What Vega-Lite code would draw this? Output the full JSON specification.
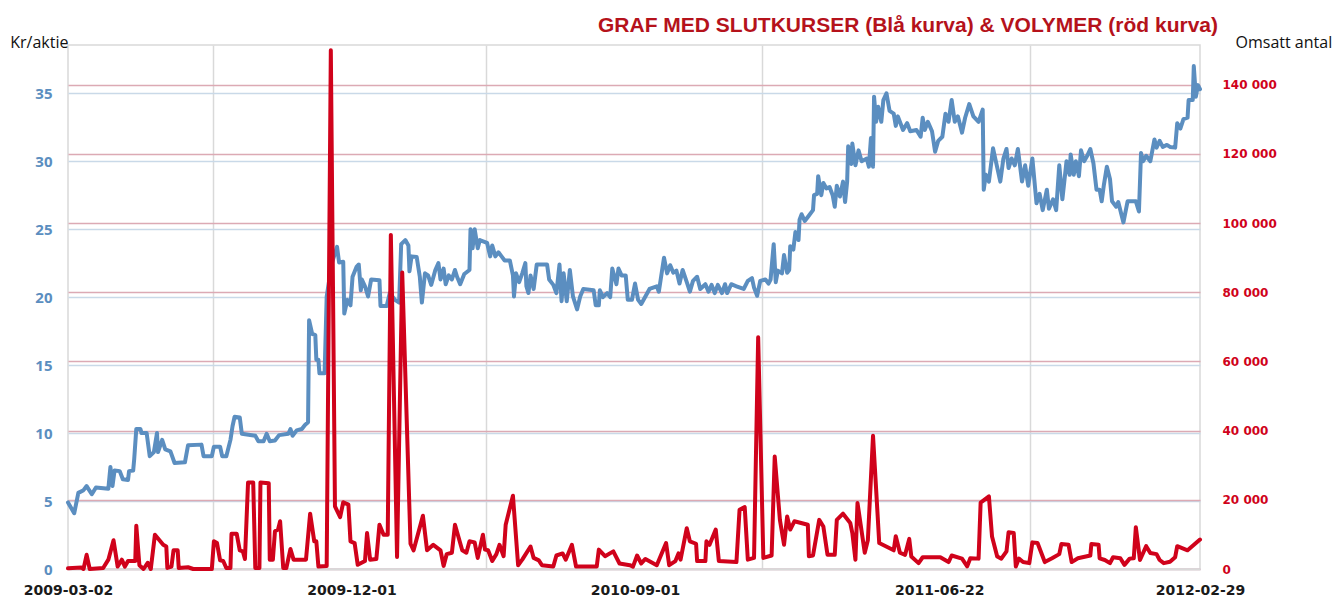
{
"$schema": "https://vega.github.io/schema/vega-lite/v6.json",
"autosize": "none",
"width": 1132,
"height": 524,
"padding": {"left": 68, "top": 45, "right": 137, "bottom": 35},
"background": "white",
"title": {"text": "GRAF MED SLUTKURSER (Blå kurva) & VOLYMER (röd kurva)", "anchor": "end", "frame": "group", "color": "#b5121b", "font": "Liberation Sans", "fontSize": 21, "fontWeight": "bold", "dx": 18, "dy": 6, "offset": 4},
"config": {"view": {"stroke": "#d9d9d9", "strokeWidth": 1.5}},
"datasets": {
"price": [
{"date":"2009-03-02","close":4.9},{"date":"2009-03-08","close":4.1},{"date":"2009-03-12","close":5.6},{"date":"2009-03-17","close":5.8},{"date":"2009-03-20","close":6.1},{"date":"2009-03-25","close":5.5},{"date":"2009-03-29","close":6.0},{"date":"2009-04-10","close":5.9},{"date":"2009-04-12","close":7.5},{"date":"2009-04-14","close":6.1},{"date":"2009-04-16","close":7.25},{"date":"2009-04-21","close":7.2},{"date":"2009-04-24","close":6.6},{"date":"2009-04-29","close":6.55},{"date":"2009-04-30","close":7.2},{"date":"2009-05-04","close":7.25},{"date":"2009-05-05","close":8.1},{"date":"2009-05-07","close":10.3},{"date":"2009-05-11","close":10.3},{"date":"2009-05-12","close":10.0},{"date":"2009-05-17","close":10.0},{"date":"2009-05-20","close":8.3},{"date":"2009-05-24","close":8.6},{"date":"2009-05-27","close":10.0},{"date":"2009-05-28","close":8.6},{"date":"2009-06-01","close":9.5},{"date":"2009-06-04","close":8.8},{"date":"2009-06-09","close":8.65},{"date":"2009-06-13","close":7.8},{"date":"2009-06-23","close":7.85},{"date":"2009-06-26","close":9.1},{"date":"2009-07-09","close":9.15},{"date":"2009-07-11","close":8.3},{"date":"2009-07-19","close":8.3},{"date":"2009-07-21","close":9.0},{"date":"2009-07-27","close":9.0},{"date":"2009-07-29","close":8.3},{"date":"2009-08-02","close":8.3},{"date":"2009-08-06","close":9.5},{"date":"2009-08-08","close":10.5},{"date":"2009-08-10","close":11.2},{"date":"2009-08-15","close":11.15},{"date":"2009-08-17","close":9.95},{"date":"2009-08-30","close":9.8},{"date":"2009-09-02","close":9.4},{"date":"2009-09-07","close":9.4},{"date":"2009-09-10","close":9.95},{"date":"2009-09-13","close":9.4},{"date":"2009-09-18","close":9.45},{"date":"2009-09-22","close":9.85},{"date":"2009-10-01","close":9.95},{"date":"2009-10-03","close":10.3},{"date":"2009-10-05","close":9.8},{"date":"2009-10-09","close":10.2},{"date":"2009-10-14","close":10.3},{"date":"2009-10-17","close":10.6},{"date":"2009-10-20","close":10.8},{"date":"2009-10-21","close":18.3},{"date":"2009-10-24","close":17.3},{"date":"2009-10-27","close":17.2},{"date":"2009-10-28","close":15.4},{"date":"2009-10-30","close":15.4},{"date":"2009-10-31","close":14.4},{"date":"2009-11-05","close":14.4},{"date":"2009-11-07","close":20.05},{"date":"2009-11-12","close":22.5},{"date":"2009-11-17","close":23.7},{"date":"2009-11-19","close":22.55},{"date":"2009-11-23","close":22.6},{"date":"2009-11-24","close":18.8},{"date":"2009-11-27","close":19.8},{"date":"2009-11-30","close":19.4},{"date":"2009-12-02","close":21.5},{"date":"2009-12-06","close":22.25},{"date":"2009-12-08","close":22.4},{"date":"2009-12-10","close":20.5},{"date":"2009-12-11","close":21.3},{"date":"2009-12-14","close":20.8},{"date":"2009-12-17","close":20.05},{"date":"2009-12-20","close":21.3},{"date":"2009-12-28","close":21.25},{"date":"2009-12-29","close":19.35},{"date":"2010-01-04","close":19.35},{"date":"2010-01-07","close":20.3},{"date":"2010-01-12","close":19.8},{"date":"2010-01-16","close":19.6},{"date":"2010-01-18","close":23.9},{"date":"2010-01-22","close":24.2},{"date":"2010-01-25","close":23.8},{"date":"2010-01-26","close":21.9},{"date":"2010-01-28","close":23.0},{"date":"2010-02-02","close":22.95},{"date":"2010-02-05","close":21.5},{"date":"2010-02-07","close":19.6},{"date":"2010-02-10","close":21.75},{"date":"2010-02-13","close":21.6},{"date":"2010-02-16","close":20.9},{"date":"2010-02-20","close":22.0},{"date":"2010-02-23","close":22.5},{"date":"2010-02-25","close":21.3},{"date":"2010-02-28","close":22.1},{"date":"2010-03-02","close":20.95},{"date":"2010-03-05","close":21.6},{"date":"2010-03-08","close":21.3},{"date":"2010-03-11","close":22.0},{"date":"2010-03-13","close":21.5},{"date":"2010-03-16","close":20.95},{"date":"2010-03-20","close":21.7},{"date":"2010-03-25","close":22.0},{"date":"2010-03-26","close":25.0},{"date":"2010-03-28","close":23.6},{"date":"2010-03-30","close":25.0},{"date":"2010-04-02","close":23.6},{"date":"2010-04-04","close":24.2},{"date":"2010-04-11","close":24.0},{"date":"2010-04-14","close":23.0},{"date":"2010-04-16","close":23.8},{"date":"2010-04-19","close":23.0},{"date":"2010-04-22","close":23.3},{"date":"2010-04-25","close":23.0},{"date":"2010-04-28","close":22.7},{"date":"2010-05-03","close":22.7},{"date":"2010-05-06","close":21.6},{"date":"2010-05-07","close":20.05},{"date":"2010-05-09","close":21.75},{"date":"2010-05-12","close":21.1},{"date":"2010-05-15","close":21.75},{"date":"2010-05-18","close":22.5},{"date":"2010-05-19","close":20.8},{"date":"2010-05-21","close":20.3},{"date":"2010-05-23","close":21.6},{"date":"2010-05-26","close":20.6},{"date":"2010-05-29","close":22.4},{"date":"2010-06-08","close":22.4},{"date":"2010-06-10","close":21.3},{"date":"2010-06-14","close":20.9},{"date":"2010-06-17","close":20.3},{"date":"2010-06-20","close":22.4},{"date":"2010-06-22","close":19.7},{"date":"2010-06-24","close":21.75},{"date":"2010-06-27","close":19.7},{"date":"2010-06-30","close":22.0},{"date":"2010-07-03","close":20.05},{"date":"2010-07-07","close":19.1},{"date":"2010-07-10","close":20.05},{"date":"2010-07-13","close":20.6},{"date":"2010-07-23","close":20.5},{"date":"2010-07-25","close":19.4},{"date":"2010-07-28","close":19.4},{"date":"2010-07-29","close":20.5},{"date":"2010-08-01","close":20.0},{"date":"2010-08-05","close":20.3},{"date":"2010-08-08","close":20.0},{"date":"2010-08-10","close":22.1},{"date":"2010-08-14","close":20.95},{"date":"2010-08-16","close":22.1},{"date":"2010-08-19","close":21.6},{"date":"2010-08-23","close":21.6},{"date":"2010-08-25","close":19.8},{"date":"2010-08-29","close":19.8},{"date":"2010-09-01","close":21.0},{"date":"2010-09-04","close":19.8},{"date":"2010-09-07","close":19.5},{"date":"2010-09-11","close":20.05},{"date":"2010-09-15","close":20.6},{"date":"2010-09-22","close":20.8},{"date":"2010-09-24","close":20.4},{"date":"2010-09-27","close":21.9},{"date":"2010-09-29","close":22.9},{"date":"2010-10-02","close":21.75},{"date":"2010-10-05","close":22.35},{"date":"2010-10-08","close":21.8},{"date":"2010-10-11","close":21.95},{"date":"2010-10-14","close":21.0},{"date":"2010-10-17","close":22.0},{"date":"2010-10-21","close":21.1},{"date":"2010-10-24","close":20.4},{"date":"2010-10-27","close":21.2},{"date":"2010-10-31","close":21.5},{"date":"2010-11-03","close":20.6},{"date":"2010-11-08","close":20.95},{"date":"2010-11-11","close":20.4},{"date":"2010-11-14","close":20.9},{"date":"2010-11-17","close":20.3},{"date":"2010-11-20","close":20.9},{"date":"2010-11-24","close":20.3},{"date":"2010-11-27","close":20.95},{"date":"2010-11-29","close":20.3},{"date":"2010-12-03","close":20.95},{"date":"2010-12-08","close":20.8},{"date":"2010-12-15","close":20.6},{"date":"2010-12-19","close":21.2},{"date":"2010-12-23","close":21.4},{"date":"2010-12-25","close":20.7},{"date":"2010-12-28","close":20.1},{"date":"2010-12-31","close":21.2},{"date":"2011-01-05","close":21.3},{"date":"2011-01-08","close":21.0},{"date":"2011-01-10","close":21.3},{"date":"2011-01-13","close":23.9},{"date":"2011-01-15","close":21.1},{"date":"2011-01-17","close":21.95},{"date":"2011-01-21","close":21.75},{"date":"2011-01-23","close":23.1},{"date":"2011-01-26","close":21.8},{"date":"2011-01-28","close":22.0},{"date":"2011-01-29","close":23.75},{"date":"2011-02-01","close":23.5},{"date":"2011-02-03","close":24.8},{"date":"2011-02-06","close":24.2},{"date":"2011-02-07","close":25.7},{"date":"2011-02-09","close":26.1},{"date":"2011-02-12","close":25.6},{"date":"2011-02-15","close":25.9},{"date":"2011-02-20","close":26.4},{"date":"2011-02-21","close":27.5},{"date":"2011-02-24","close":27.6},{"date":"2011-02-25","close":28.9},{"date":"2011-02-28","close":27.5},{"date":"2011-03-02","close":28.4},{"date":"2011-03-05","close":28.0},{"date":"2011-03-08","close":28.1},{"date":"2011-03-11","close":27.5},{"date":"2011-03-13","close":26.65},{"date":"2011-03-15","close":28.2},{"date":"2011-03-18","close":27.4},{"date":"2011-03-21","close":28.5},{"date":"2011-03-23","close":27.0},{"date":"2011-03-25","close":28.5},{"date":"2011-03-26","close":31.1},{"date":"2011-03-29","close":29.8},{"date":"2011-03-30","close":31.3},{"date":"2011-04-02","close":29.7},{"date":"2011-04-05","close":30.8},{"date":"2011-04-08","close":30.0},{"date":"2011-04-13","close":30.2},{"date":"2011-04-15","close":29.6},{"date":"2011-04-17","close":31.7},{"date":"2011-04-19","close":29.6},{"date":"2011-04-20","close":34.75},{"date":"2011-04-22","close":32.9},{"date":"2011-04-24","close":34.0},{"date":"2011-04-27","close":32.9},{"date":"2011-04-29","close":34.5},{"date":"2011-05-02","close":35.0},{"date":"2011-05-05","close":33.7},{"date":"2011-05-09","close":33.5},{"date":"2011-05-11","close":32.6},{"date":"2011-05-13","close":33.3},{"date":"2011-05-18","close":32.3},{"date":"2011-05-22","close":32.8},{"date":"2011-05-25","close":32.2},{"date":"2011-05-31","close":32.3},{"date":"2011-06-04","close":31.8},{"date":"2011-06-06","close":33.2},{"date":"2011-06-08","close":32.3},{"date":"2011-06-11","close":32.9},{"date":"2011-06-15","close":32.2},{"date":"2011-06-18","close":30.7},{"date":"2011-06-21","close":31.5},{"date":"2011-06-25","close":31.8},{"date":"2011-06-28","close":33.5},{"date":"2011-07-01","close":32.9},{"date":"2011-07-04","close":34.5},{"date":"2011-07-07","close":32.9},{"date":"2011-07-10","close":33.3},{"date":"2011-07-14","close":32.1},{"date":"2011-07-17","close":33.2},{"date":"2011-07-21","close":34.2},{"date":"2011-07-25","close":33.3},{"date":"2011-07-30","close":32.9},{"date":"2011-08-03","close":33.8},{"date":"2011-08-04","close":27.9},{"date":"2011-08-06","close":29.0},{"date":"2011-08-09","close":28.5},{"date":"2011-08-13","close":30.95},{"date":"2011-08-16","close":29.9},{"date":"2011-08-20","close":28.5},{"date":"2011-08-23","close":30.2},{"date":"2011-08-26","close":30.9},{"date":"2011-08-28","close":29.5},{"date":"2011-08-31","close":30.2},{"date":"2011-09-03","close":29.7},{"date":"2011-09-06","close":30.9},{"date":"2011-09-10","close":28.5},{"date":"2011-09-13","close":29.7},{"date":"2011-09-16","close":28.2},{"date":"2011-09-20","close":30.2},{"date":"2011-09-24","close":26.9},{"date":"2011-09-27","close":27.6},{"date":"2011-09-30","close":26.4},{"date":"2011-10-04","close":27.9},{"date":"2011-10-06","close":26.5},{"date":"2011-10-10","close":27.2},{"date":"2011-10-13","close":26.4},{"date":"2011-10-16","close":29.7},{"date":"2011-10-19","close":27.2},{"date":"2011-10-23","close":30.0},{"date":"2011-10-26","close":29.0},{"date":"2011-10-27","close":30.5},{"date":"2011-10-30","close":29.0},{"date":"2011-11-01","close":30.0},{"date":"2011-11-04","close":28.9},{"date":"2011-11-06","close":30.8},{"date":"2011-11-09","close":30.0},{"date":"2011-11-12","close":30.4},{"date":"2011-11-15","close":30.9},{"date":"2011-11-18","close":29.85},{"date":"2011-11-21","close":27.9},{"date":"2011-11-24","close":27.9},{"date":"2011-11-26","close":27.05},{"date":"2011-11-28","close":28.2},{"date":"2011-12-01","close":29.6},{"date":"2011-12-04","close":28.7},{"date":"2011-12-06","close":27.05},{"date":"2011-12-10","close":26.65},{"date":"2011-12-12","close":27.0},{"date":"2011-12-17","close":25.5},{"date":"2011-12-21","close":27.05},{"date":"2011-12-29","close":27.05},{"date":"2012-01-01","close":26.3},{"date":"2012-01-03","close":30.6},{"date":"2012-01-05","close":30.0},{"date":"2012-01-08","close":30.4},{"date":"2012-01-12","close":30.0},{"date":"2012-01-16","close":31.6},{"date":"2012-01-18","close":31.0},{"date":"2012-01-21","close":31.5},{"date":"2012-01-24","close":31.05},{"date":"2012-01-28","close":31.2},{"date":"2012-01-31","close":31.05},{"date":"2012-02-05","close":31.0},{"date":"2012-02-07","close":32.8},{"date":"2012-02-10","close":32.4},{"date":"2012-02-13","close":33.1},{"date":"2012-02-17","close":33.2},{"date":"2012-02-18","close":34.5},{"date":"2012-02-22","close":34.5},{"date":"2012-02-23","close":37.0},{"date":"2012-02-25","close":34.75},{"date":"2012-02-27","close":35.6},{"date":"2012-02-29","close":35.3}
],
"volume": [
{"date":"2009-03-02","volume":200},{"date":"2009-03-15","volume":400},{"date":"2009-03-17","volume":0},{"date":"2009-03-20","volume":4100},{"date":"2009-03-23","volume":0},{"date":"2009-04-05","volume":300},{"date":"2009-04-10","volume":2700},{"date":"2009-04-15","volume":8300},{"date":"2009-04-19","volume":700},{"date":"2009-04-23","volume":2700},{"date":"2009-04-26","volume":700},{"date":"2009-04-29","volume":2300},{"date":"2009-05-06","volume":2300},{"date":"2009-05-07","volume":12500},{"date":"2009-05-10","volume":1100},{"date":"2009-05-14","volume":0},{"date":"2009-05-18","volume":1800},{"date":"2009-05-21","volume":0},{"date":"2009-05-25","volume":9900},{"date":"2009-06-02","volume":7000},{"date":"2009-06-05","volume":6500},{"date":"2009-06-06","volume":300},{"date":"2009-06-10","volume":700},{"date":"2009-06-12","volume":5400},{"date":"2009-06-16","volume":5400},{"date":"2009-06-17","volume":300},{"date":"2009-06-26","volume":500},{"date":"2009-07-01","volume":0},{"date":"2009-07-19","volume":0},{"date":"2009-07-21","volume":8000},{"date":"2009-07-24","volume":7500},{"date":"2009-07-27","volume":2500},{"date":"2009-07-30","volume":2300},{"date":"2009-08-02","volume":300},{"date":"2009-08-06","volume":300},{"date":"2009-08-07","volume":10200},{"date":"2009-08-12","volume":10200},{"date":"2009-08-15","volume":5400},{"date":"2009-08-18","volume":5100},{"date":"2009-08-20","volume":2900},{"date":"2009-08-23","volume":25000},{"date":"2009-08-28","volume":25000},{"date":"2009-08-30","volume":300},{"date":"2009-09-03","volume":300},{"date":"2009-09-04","volume":25000},{"date":"2009-09-12","volume":24800},{"date":"2009-09-13","volume":2700},{"date":"2009-09-16","volume":2700},{"date":"2009-09-18","volume":10900},{"date":"2009-09-21","volume":11400},{"date":"2009-09-23","volume":13800},{"date":"2009-09-26","volume":300},{"date":"2009-09-29","volume":300},{"date":"2009-10-03","volume":5800},{"date":"2009-10-06","volume":2700},{"date":"2009-10-18","volume":2700},{"date":"2009-10-22","volume":16000},{"date":"2009-10-26","volume":8000},{"date":"2009-10-28","volume":8000},{"date":"2009-10-30","volume":700},{"date":"2009-11-07","volume":900},{"date":"2009-11-11","volume":150000},{"date":"2009-11-15","volume":18100},{"date":"2009-11-20","volume":15000},{"date":"2009-11-23","volume":19300},{"date":"2009-11-28","volume":18600},{"date":"2009-11-30","volume":8000},{"date":"2009-12-04","volume":7500},{"date":"2009-12-07","volume":1200},{"date":"2009-12-14","volume":2300},{"date":"2009-12-16","volume":10400},{"date":"2009-12-19","volume":2700},{"date":"2009-12-25","volume":2900},{"date":"2009-12-28","volume":12800},{"date":"2010-01-01","volume":9900},{"date":"2010-01-05","volume":9900},{"date":"2010-01-08","volume":96600},{"date":"2010-01-14","volume":3500},{"date":"2010-01-19","volume":85700},{"date":"2010-01-27","volume":7300},{"date":"2010-01-30","volume":5400},{"date":"2010-02-08","volume":15400},{"date":"2010-02-12","volume":5400},{"date":"2010-02-18","volume":7000},{"date":"2010-02-25","volume":5400},{"date":"2010-02-28","volume":900},{"date":"2010-03-03","volume":4300},{"date":"2010-03-08","volume":4700},{"date":"2010-03-11","volume":12800},{"date":"2010-03-18","volume":5400},{"date":"2010-03-22","volume":4700},{"date":"2010-03-25","volume":8000},{"date":"2010-03-30","volume":7700},{"date":"2010-04-02","volume":3200},{"date":"2010-04-07","volume":9900},{"date":"2010-04-09","volume":5600},{"date":"2010-04-12","volume":5400},{"date":"2010-04-16","volume":2300},{"date":"2010-04-20","volume":4300},{"date":"2010-04-23","volume":7000},{"date":"2010-04-27","volume":3700},{"date":"2010-04-29","volume":12800},{"date":"2010-05-06","volume":21200},{"date":"2010-05-11","volume":1100},{"date":"2010-05-15","volume":2700},{"date":"2010-05-23","volume":6500},{"date":"2010-05-26","volume":3200},{"date":"2010-05-31","volume":2500},{"date":"2010-06-03","volume":1100},{"date":"2010-06-14","volume":700},{"date":"2010-06-17","volume":3900},{"date":"2010-06-23","volume":4500},{"date":"2010-06-26","volume":2700},{"date":"2010-07-02","volume":7000},{"date":"2010-07-06","volume":700},{"date":"2010-07-26","volume":700},{"date":"2010-07-28","volume":5600},{"date":"2010-08-03","volume":3700},{"date":"2010-08-11","volume":5100},{"date":"2010-08-17","volume":1600},{"date":"2010-08-27","volume":1100},{"date":"2010-08-30","volume":700},{"date":"2010-09-03","volume":3900},{"date":"2010-09-07","volume":1600},{"date":"2010-09-11","volume":2900},{"date":"2010-09-22","volume":1100},{"date":"2010-10-01","volume":7500},{"date":"2010-10-04","volume":1100},{"date":"2010-10-10","volume":2300},{"date":"2010-10-13","volume":4500},{"date":"2010-10-15","volume":2700},{"date":"2010-10-21","volume":11800},{"date":"2010-10-24","volume":8000},{"date":"2010-10-30","volume":7300},{"date":"2010-10-31","volume":2300},{"date":"2010-11-08","volume":2300},{"date":"2010-11-09","volume":8000},{"date":"2010-11-12","volume":7000},{"date":"2010-11-18","volume":11400},{"date":"2010-11-21","volume":2300},{"date":"2010-12-08","volume":2000},{"date":"2010-12-11","volume":17100},{"date":"2010-12-16","volume":17900},{"date":"2010-12-19","volume":2700},{"date":"2010-12-25","volume":3200},{"date":"2010-12-29","volume":67000},{"date":"2011-01-03","volume":3200},{"date":"2011-01-11","volume":3900},{"date":"2011-01-14","volume":32500},{"date":"2011-01-19","volume":14200},{"date":"2011-01-23","volume":7000},{"date":"2011-01-26","volume":15200},{"date":"2011-01-29","volume":11400},{"date":"2011-02-02","volume":13800},{"date":"2011-02-15","volume":12800},{"date":"2011-02-16","volume":3700},{"date":"2011-02-20","volume":3900},{"date":"2011-02-26","volume":14200},{"date":"2011-03-02","volume":12300},{"date":"2011-03-06","volume":4100},{"date":"2011-03-13","volume":4100},{"date":"2011-03-15","volume":14200},{"date":"2011-03-21","volume":16000},{"date":"2011-03-28","volume":13300},{"date":"2011-03-30","volume":10400},{"date":"2011-04-02","volume":2700},{"date":"2011-04-04","volume":19100},{"date":"2011-04-11","volume":4700},{"date":"2011-04-14","volume":8300},{"date":"2011-04-19","volume":38500},{"date":"2011-04-25","volume":7500},{"date":"2011-05-09","volume":5400},{"date":"2011-05-11","volume":9500},{"date":"2011-05-15","volume":4700},{"date":"2011-05-20","volume":4100},{"date":"2011-05-24","volume":8700},{"date":"2011-05-26","volume":3600},{"date":"2011-06-02","volume":1700},{"date":"2011-06-06","volume":3400},{"date":"2011-06-23","volume":3400},{"date":"2011-07-01","volume":2000},{"date":"2011-07-04","volume":3900},{"date":"2011-07-14","volume":3000},{"date":"2011-07-19","volume":750},{"date":"2011-07-22","volume":3100},{"date":"2011-07-30","volume":3000},{"date":"2011-08-01","volume":19200},{"date":"2011-08-09","volume":21000},{"date":"2011-08-12","volume":9400},{"date":"2011-08-17","volume":3600},{"date":"2011-08-21","volume":3000},{"date":"2011-08-26","volume":5100},{"date":"2011-08-28","volume":10600},{"date":"2011-09-02","volume":10400},{"date":"2011-09-04","volume":750},{"date":"2011-09-07","volume":3000},{"date":"2011-09-11","volume":2000},{"date":"2011-09-17","volume":1700},{"date":"2011-09-20","volume":7700},{"date":"2011-09-25","volume":7500},{"date":"2011-10-02","volume":2000},{"date":"2011-10-09","volume":3100},{"date":"2011-10-16","volume":4300},{"date":"2011-10-18","volume":7200},{"date":"2011-10-25","volume":7000},{"date":"2011-10-28","volume":2000},{"date":"2011-11-03","volume":3100},{"date":"2011-11-15","volume":3900},{"date":"2011-11-16","volume":7200},{"date":"2011-11-23","volume":7000},{"date":"2011-11-24","volume":3100},{"date":"2011-11-29","volume":2600},{"date":"2011-12-04","volume":1700},{"date":"2011-12-07","volume":3400},{"date":"2011-12-14","volume":3100},{"date":"2011-12-18","volume":1200},{"date":"2011-12-23","volume":3000},{"date":"2011-12-27","volume":3100},{"date":"2011-12-29","volume":12100},{"date":"2012-01-02","volume":2600},{"date":"2012-01-08","volume":6600},{"date":"2012-01-12","volume":4600},{"date":"2012-01-18","volume":4300},{"date":"2012-01-21","volume":2600},{"date":"2012-01-25","volume":1700},{"date":"2012-01-31","volume":2100},{"date":"2012-02-05","volume":3400},{"date":"2012-02-07","volume":6600},{"date":"2012-02-17","volume":5400},{"date":"2012-02-29","volume":8500}
]
},
"layer": [
{
"data": {"name": "price"},
"mark": {"type": "line", "color": "#5b8ec0", "strokeWidth": 4, "strokeJoin": "round", "strokeCap": "round"},
"encoding": {
"x": {"field": "date", "type": "temporal", "scale": {"type": "utc", "domain": [{"year": 2009, "month": 3, "date": 2, "utc": true}, {"year": 2012, "month": 2, "date": 29, "utc": true}]},
"axis": {"orient": "bottom", "title": null, "labels": false, "ticks": false, "domain": false, "grid": true, "gridColor": "#d9d9d9", "gridWidth": 1.5,
"values": [{"year": 2009, "month": 7, "date": 20, "utc": true}, {"year": 2010, "month": 4, "date": 10, "utc": true}, {"year": 2011, "month": 1, "date": 2, "utc": true}, {"year": 2011, "month": 9, "date": 18, "utc": true}]}},
"y": {"field": "close", "type": "quantitative", "scale": {"domain": [0, 38.55], "nice": false, "zero": true},
"axis": {"orient": "left", "values": [0, 5, 10, 15, 20, 25, 30, 35], "grid": true, "gridColor": "#c9d9e8", "gridWidth": 1.5, "domain": false, "ticks": false,
"labelColor": "#5b8ec0", "labelFont": "Open Sans", "labelFontWeight": "bold", "labelFontSize": 15, "labelPadding": 16,
"title": "Kr/aktie", "titleAngle": 0, "titleX": 0, "titleY": -3, "titleAlign": "right", "titleBaseline": "middle", "titleFont": "Open Sans", "titleFontSize": 16, "titleFontWeight": "normal", "titleColor": "#111111"}}
}
},
{
"data": {"name": "volume"},
"mark": {"type": "line", "color": "#d0021b", "strokeWidth": 4, "strokeJoin": "round", "strokeCap": "round"},
"encoding": {
"x": {"field": "date", "type": "temporal",
"axis": {"orient": "bottom", "title": null, "grid": false, "ticks": false, "domain": true, "domainColor": "#d9d9d9", "domainWidth": 1.5, "format": "%Y-%m-%d", "labelFlush": false,
"labelFont": "DejaVu Sans", "labelFontWeight": "bold", "labelFontSize": 14, "labelColor": "#1a1a1a", "labelPadding": 14,
"values": [{"year": 2009, "month": 3, "date": 2, "utc": true}, {"year": 2009, "month": 12, "date": 1, "utc": true}, {"year": 2010, "month": 9, "date": 1, "utc": true}, {"year": 2011, "month": 6, "date": 22, "utc": true}, {"year": 2012, "month": 2, "date": 29, "utc": true}]}},
"y": {"field": "volume", "type": "quantitative", "scale": {"domain": [0, 151500], "nice": false, "zero": true},
"axis": {"orient": "right", "values": [0, 20000, 40000, 60000, 80000, 100000, 120000, 140000], "grid": true, "gridColor": "#dcaab4", "gridWidth": 1.5, "domain": false, "ticks": false,
"labelExpr": "replace(format(datum.value, ','), ',', ' ')",
"labelColor": "#d0021b", "labelFont": "DejaVu Sans", "labelFontWeight": "bold", "labelFontSize": 12, "labelPadding": 22,
"title": "Omsatt antal", "titleAngle": 0, "titleX": 35, "titleY": -3, "titleAlign": "left", "titleBaseline": "middle", "titleFont": "Open Sans", "titleFontSize": 16, "titleFontWeight": "normal", "titleColor": "#111111"}}
}
}
],
"resolve": {"scale": {"y": "independent"}, "axis": {"x": "independent"}}
}
